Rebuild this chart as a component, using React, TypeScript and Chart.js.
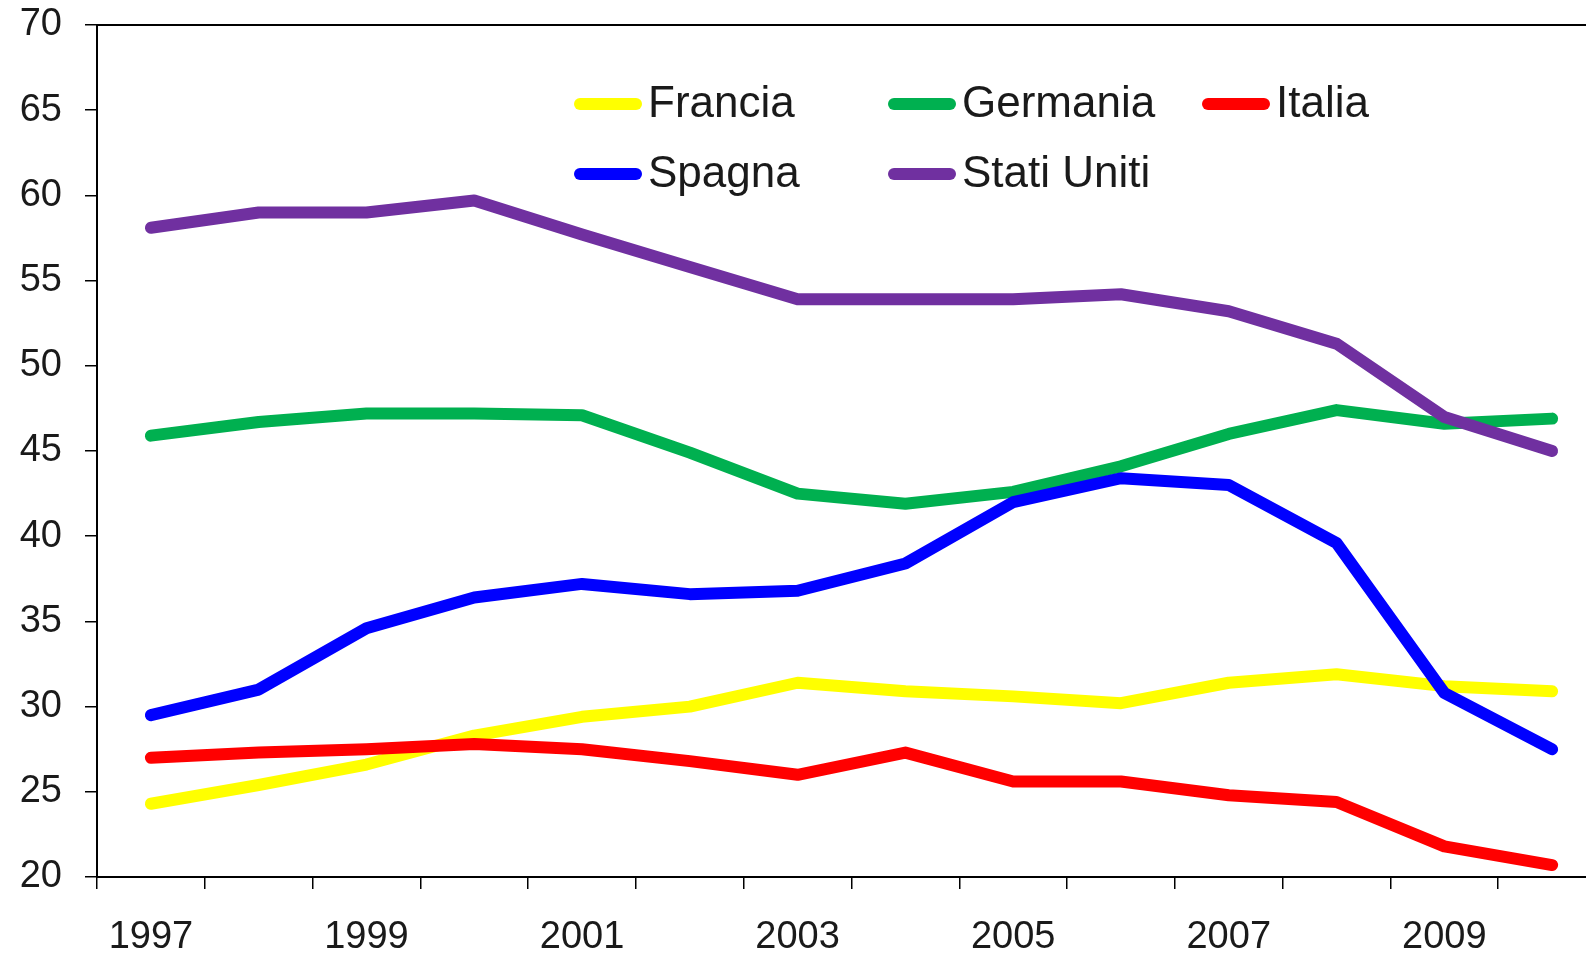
import React, { useEffect, useRef } from "react";
import { Chart, registerables } from "chart.js";

Chart.register(...registerables);

const years = ["1997", "1998", "1999", "2000", "2001", "2002", "2003", "2004", "2005", "2006", "2007", "2008", "2009", "2010"];

const francia = [24.3, 25.4, 26.6, 28.3, 29.4, 30.0, 31.4, 30.9, 30.6, 30.2, 31.4, 31.9, 31.2, 30.9];
const germania = [45.9, 46.7, 47.2, 47.2, 47.1, 44.9, 42.5, 41.9, 42.6, 44.1, 46.0, 47.4, 46.6, 46.9];
const italia = [27.0, 27.3, 27.5, 27.8, 27.5, 26.8, 26.0, 27.3, 25.6, 25.6, 24.8, 24.4, 21.8, 20.7];
const spagna = [29.5, 31.0, 34.6, 36.4, 37.2, 36.6, 36.8, 38.4, 42.0, 43.4, 43.0, 39.6, 30.8, 27.5];
const statiUniti = [58.1, 59.0, 59.0, 59.7, 57.7, 55.8, 53.9, 53.9, 53.9, 54.2, 53.2, 51.3, 47.0, 45.0];

const seriesNames = ["Francia", "Germania", "Italia", "Spagna", "Stati Uniti"];
const seriesValues = [francia, germania, italia, spagna, statiUniti];
const seriesColors = ["#FFFF00", "#00B050", "#FF0000", "#0000FF", "#7030A0"];

const yMin = 20;
const yMax = 70;
const yStep = 5;

const FONT = "'Liberation Sans', Arial, Helvetica, sans-serif";

const gridLegend = {
  id: "gridLegend",
  afterDraw(chart: any) {
    const ctx = chart.ctx;
    const colX = [574, 888, 1202];
    const rowY = [104, 174];
    ctx.save();
    chart.data.datasets.forEach((ds: any, i: number) => {
      const col = i < 3 ? i : i - 3;
      const row = i < 3 ? 0 : 1;
      const x = colX[col];
      const y = rowY[row];
      ctx.strokeStyle = ds.borderColor;
      ctx.lineWidth = 12;
      ctx.lineCap = "round";
      ctx.beginPath();
      ctx.moveTo(x + 6, y);
      ctx.lineTo(x + 62, y);
      ctx.stroke();
      ctx.fillStyle = "#1a1a1a";
      ctx.font = `44px ${FONT}`;
      ctx.textAlign = "left";
      ctx.textBaseline = "middle";
      ctx.fillText(ds.label, x + 74, y + 1);
    });
    ctx.restore();
  },
};

const topBorder = {
  id: "topBorder",
  afterDraw(chart: any) {
    const { ctx, chartArea } = chart;
    ctx.save();
    ctx.strokeStyle = "#000";
    ctx.lineWidth = 2;
    ctx.beginPath();
    ctx.moveTo(chartArea.left, chartArea.top);
    ctx.lineTo(chart.width, chartArea.top);
    ctx.stroke();
    ctx.restore();
  },
};

export default function App() {
  const ref = useRef<HTMLCanvasElement | null>(null);

  useEffect(() => {
    if (!ref.current) return;
    const chart = new Chart(ref.current, {
      type: "line",
      data: {
        labels: years,
        datasets: seriesNames.map((name, i) => ({
          label: name,
          data: seriesValues[i],
          borderColor: seriesColors[i],
          backgroundColor: seriesColors[i],
          borderWidth: 12,
          borderCapStyle: "round",
          borderJoinStyle: "round",
          pointRadius: 0,
          tension: 0,
          fill: false,
          order: seriesNames.length - i,
        })),
      },
      options: {
        animation: false,
        responsive: true,
        maintainAspectRatio: false,
        layout: { padding: { top: 25, right: 0, bottom: 0, left: 0 } },
        plugins: {
          legend: { display: false },
          tooltip: { enabled: false },
        },
        scales: {
          x: {
            type: "category",
            offset: true,
            grid: {
              offset: true,
              display: true,
              drawOnChartArea: false,
              drawTicks: true,
              tickLength: 12,
              color: "#000",
              lineWidth: 1.5,
            },
            border: { display: true, color: "#000", width: 2 },
            ticks: {
              autoSkip: false,
              maxRotation: 0,
              minRotation: 0,
              padding: 26,
              color: "#1a1a1a",
              font: { family: FONT, size: 38 },
              callback: (_v: any, idx: number) => (idx % 2 === 0 ? years[idx] : ""),
            },
            afterFit: (scale: any) => {
              scale.height = 76;
              scale.paddingLeft = 0;
              scale.paddingRight = 0;
            },
          },
          y: {
            min: yMin,
            max: yMax,
            grid: {
              display: true,
              drawOnChartArea: false,
              drawTicks: true,
              tickLength: 12,
              color: "#000",
              lineWidth: 1.5,
            },
            border: { display: true, color: "#000", width: 2 },
            ticks: {
              stepSize: yStep,
              padding: 23,
              color: "#1a1a1a",
              font: { family: FONT, size: 38 },
            },
            afterFit: (scale: any) => {
              scale.width = 97;
              scale.paddingTop = 0;
              scale.paddingBottom = 0;
            },
          },
        },
      },
      plugins: [gridLegend, topBorder],
    });
    return () => chart.destroy();
  }, []);

  return (
    <div
      style={{
        position: "fixed",
        left: 0,
        top: 0,
        width: 1586,
        height: 953,
        overflow: "hidden",
        background: "#fff",
      }}
    >
      <div style={{ position: "relative", width: 1606, height: 953 }}>
        <canvas ref={ref} />
      </div>
    </div>
  );
}
